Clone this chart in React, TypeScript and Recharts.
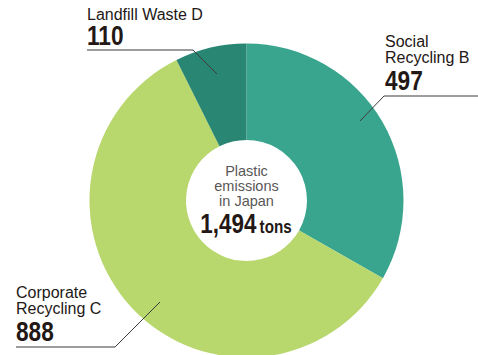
import React from 'react';
import { PieChart, Pie, Cell } from 'recharts';

const names = ['Social Recycling B', 'Corporate Recycling C', 'Landfill Waste D'];
const values = [497, 888, 110];
const colors = ['#3aa58e', '#b8d76d', '#288672'];
const total = '1,494';

const data = names.map((n, i) => ({ name: n, value: values[i] }));

const INK = '#231815';
const SANS = "'Liberation Sans', Arial, Helvetica, sans-serif";

// callout layout per slice: text lines, text x, baselines, leader polyline
const LAYOUT = [
    { lines: ['Social', 'Recycling B'], x: 385, ys: [47, 63], numY: 90, pts: '360,121 384,96 478,96' },
    { lines: ['Corporate', 'Recycling C'], x: 16, ys: [298, 314], numY: 341, pts: '160,302 115,347 16,347' },
    { lines: ['Landfill Waste D'], x: 87, ys: [20], numY: 45, pts: '217,74 193,50 87,50' },
];

// bold condensed look: Liberation Sans bold squeezed horizontally
function Cond({ x, y, size, sx = 0.84, anchor = 'start', children }: any) {
    return (
        <text transform={`translate(${x},${y}) scale(${sx},1)`} textAnchor={anchor}
            fontFamily={SANS} fontWeight="bold" fontSize={size} fill={INK}>{children}</text>
    );
}

function Callout(props: any) {
    const L = LAYOUT[props.index];
    if (!L) return null;
    return (
        <g>
            <polyline points={L.pts} fill="none" stroke="#3e3a39" strokeWidth={1} />
            {L.lines.map((t, i) => (
                <text key={i} x={L.x} y={L.ys[i]} fontFamily={SANS} fontSize={16} fill={INK}>{t}</text>
            ))}
            <Cond x={L.x} y={L.numY} size={27}>{values[props.index]}</Cond>
        </g>
    );
}

export default function App() {
    return (
        <div style={{ position: 'absolute', left: 0, top: 0, width: 478, height: 355, background: '#fff' }}>
            <PieChart width={478} height={355} margin={{ top: 0, right: 0, bottom: 0, left: 0 }}>
                <Pie data={data} dataKey="value" cx={246.5} cy={200.5} innerRadius={60.5} outerRadius={157}
                    startAngle={90} endAngle={-270} stroke="none" label={Callout} labelLine={false} isAnimationActive={false}>
                    {data.map((d, i) => <Cell key={d.name} fill={colors[i]} />)}
                </Pie>
            </PieChart>
            <svg width={478} height={355} style={{ position: 'absolute', left: 0, top: 0, pointerEvents: 'none' }}>
                <g fontFamily={SANS} fontSize={14.5} fill="#595757" textAnchor="middle">
                    <text x={246.5} y={176}>Plastic</text>
                    <text x={246.5} y={191}>emissions</text>
                    <text x={246.5} y={206}>in Japan</text>
                </g>
                <Cond x={246} y={233} size={28} sx={0.8} anchor="middle">
                    <tspan>{total}</tspan>
                    <tspan fontSize={19} dx={4}>tons</tspan>
                </Cond>
            </svg>
        </div>
    );
}
